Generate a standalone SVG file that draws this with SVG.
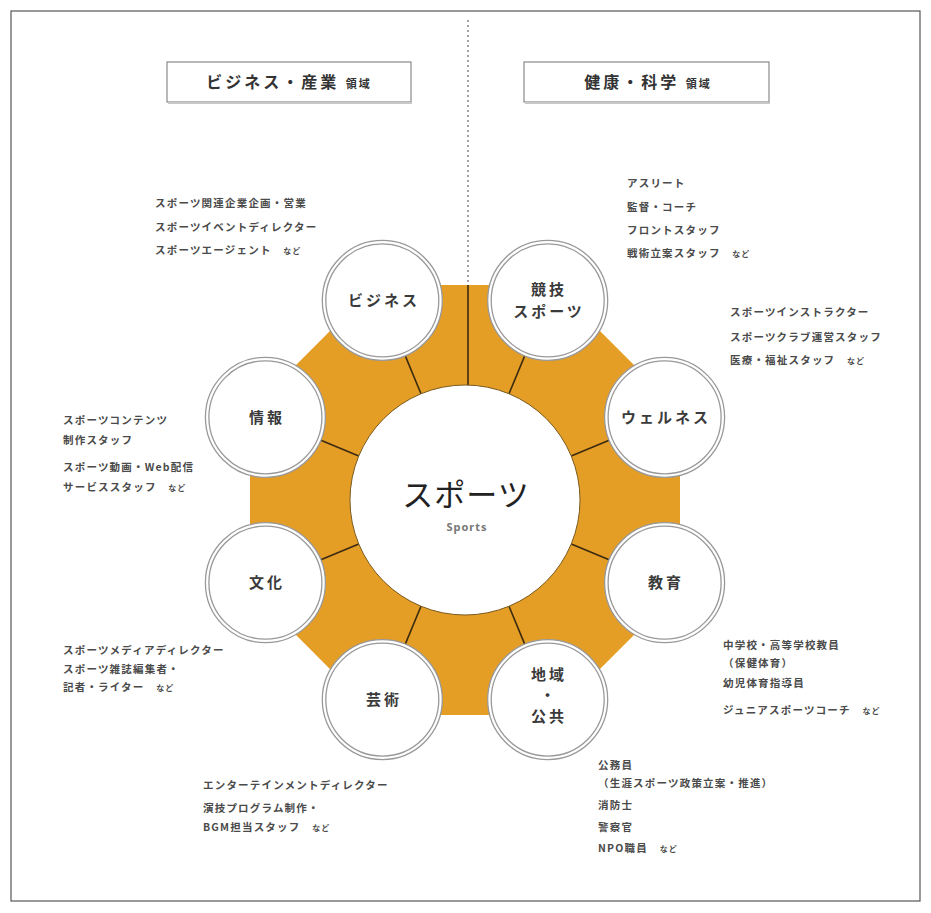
<svg xmlns="http://www.w3.org/2000/svg" width="931" height="913" viewBox="0 0 931 913">
<defs>
<style>
.bg{fill:#ffffff}
.frame{fill:none;stroke:#555;stroke-width:1.2}
.hdr{fill:#fff;stroke:#8a8a8a;stroke-width:1.2}
.hdrs{fill:none;stroke:#c8c8c8;stroke-width:2}
.ht{font-family:"Noto Sans CJK JP","Noto Sans",sans-serif;font-size:16px;font-weight:bold;fill:#333;letter-spacing:3px}
.hs{font-size:11px;letter-spacing:2px}
.div{stroke:#666;stroke-width:1.2;stroke-dasharray:2 3}
.oct{fill:#E49E26}
.spoke{stroke:#3b2a10;stroke-width:1.6}
.ctr{fill:#fff;stroke:#7a5a20;stroke-width:1}
.ring{fill:#fff;stroke:#999;stroke-width:1.3}
.ring2{fill:none;stroke:#999;stroke-width:1.3}
.nl{font-family:"Noto Sans CJK JP","Noto Sans",sans-serif;font-size:15px;font-weight:bold;fill:#3a3a3a;letter-spacing:3px;text-anchor:middle}
.big{font-family:"Noto Sans CJK JP","Noto Sans",sans-serif;font-size:31px;fill:#222;text-anchor:middle;letter-spacing:1px}
.sp{font-family:"Noto Sans","DejaVu Sans",sans-serif;font-size:11px;font-weight:bold;fill:#777;text-anchor:middle;letter-spacing:1px}
.t{font-family:"Noto Sans CJK JP","Noto Sans",sans-serif;font-size:10.5px;font-weight:bold;fill:#4a4a4a;letter-spacing:1.2px}
.etc{font-size:8px;letter-spacing:1px}
</style>
</defs>
<rect class="bg" x="0" y="0" width="931" height="913"/>
<rect class="frame" x="11" y="11" width="909" height="890"/>

<g id="header-left">
<rect class="hdr" x="167" y="62" width="244" height="40"/>
<line class="hdrs" x1="168" y1="103" x2="412" y2="103"/>
<text class="ht" x="289" y="88" text-anchor="middle">ビジネス・産業 <tspan class="hs">領域</tspan></text>
</g>
<g id="header-right">
<rect class="hdr" x="524" y="62" width="245" height="40"/>
<line class="hdrs" x1="525" y1="103" x2="770" y2="103"/>
<text class="ht" x="648" y="88" text-anchor="middle">健康・科学 <tspan class="hs">領域</tspan></text>
</g>

<line id="divider" class="div" x1="468" y1="20" x2="468" y2="285"/>

<g id="ring">
<polygon class="oct" points="680,410.95 680,589.05 554.05,715 375.95,715 250,589.05 250,410.95 375.95,285 554.05,285"/>
</g>

<g id="connectors">
<line class="spoke" x1="468" y1="285" x2="468" y2="386"/>
<line class="spoke" x1="580" y1="500" x2="621" y2="500" transform="rotate(22.5 465 500)"/>
<line class="spoke" x1="580" y1="500" x2="621" y2="500" transform="rotate(67.5 465 500)"/>
<line class="spoke" x1="580" y1="500" x2="621" y2="500" transform="rotate(112.5 465 500)"/>
<line class="spoke" x1="580" y1="500" x2="621" y2="500" transform="rotate(157.5 465 500)"/>
<line class="spoke" x1="580" y1="500" x2="621" y2="500" transform="rotate(202.5 465 500)"/>
<line class="spoke" x1="580" y1="500" x2="621" y2="500" transform="rotate(247.5 465 500)"/>
<line class="spoke" x1="580" y1="500" x2="621" y2="500" transform="rotate(292.5 465 500)"/>
<line class="spoke" x1="580" y1="500" x2="621" y2="500" transform="rotate(337.5 465 500)"/>
</g>

<g id="center">
<circle class="ctr" cx="465" cy="500" r="115"/>
<text class="big" x="466" y="506">スポーツ</text>
<text class="sp" x="467" y="531">Sports</text>
</g>

<g id="node-business">
<circle class="ring" cx="382.3" cy="300.4" r="60"/><circle class="ring2" cx="382.3" cy="300.4" r="56.5"/>
<text class="nl" x="384" y="306">ビジネス</text>
</g>
<g id="node-competition">
<circle class="ring" cx="547.7" cy="300.4" r="60"/><circle class="ring2" cx="547.7" cy="300.4" r="56.5"/>
<text class="nl" x="549" y="295">競技<tspan x="549" dy="22">スポーツ</tspan></text>
</g>
<g id="node-wellness">
<circle class="ring" cx="664.6" cy="417.3" r="60"/><circle class="ring2" cx="664.6" cy="417.3" r="56.5"/>
<text class="nl" x="666" y="423">ウェルネス</text>
</g>
<g id="node-education">
<circle class="ring" cx="664.6" cy="582.7" r="60"/><circle class="ring2" cx="664.6" cy="582.7" r="56.5"/>
<text class="nl" x="666" y="588">教育</text>
</g>
<g id="node-community">
<circle class="ring" cx="547.7" cy="699.6" r="60"/><circle class="ring2" cx="547.7" cy="699.6" r="56.5"/>
<text class="nl" x="549" y="680">地域<tspan x="549" dy="21">・</tspan><tspan x="549" dy="21">公共</tspan></text>
</g>
<g id="node-art">
<circle class="ring" cx="382.3" cy="699.6" r="60"/><circle class="ring2" cx="382.3" cy="699.6" r="56.5"/>
<text class="nl" x="384" y="705">芸術</text>
</g>
<g id="node-culture">
<circle class="ring" cx="265.4" cy="582.7" r="60"/><circle class="ring2" cx="265.4" cy="582.7" r="56.5"/>
<text class="nl" x="267" y="588">文化</text>
</g>
<g id="node-information">
<circle class="ring" cx="265.4" cy="417.3" r="60"/><circle class="ring2" cx="265.4" cy="417.3" r="56.5"/>
<text class="nl" x="267" y="423">情報</text>
</g>

<g id="jobs-business">
<text class="t" x="155" y="207">スポーツ関連企業企画・営業</text>
<text class="t" x="155" y="231">スポーツイベントディレクター</text>
<text class="t" x="155" y="254">スポーツエージェント　<tspan class="etc">など</tspan></text>
</g>
<g id="jobs-competition">
<text class="t" x="627" y="187">アスリート</text>
<text class="t" x="627" y="211">監督・コーチ</text>
<text class="t" x="627" y="234">フロントスタッフ</text>
<text class="t" x="627" y="257">戦術立案スタッフ　<tspan class="etc">など</tspan></text>
</g>
<g id="jobs-wellness">
<text class="t" x="730" y="316">スポーツインストラクター</text>
<text class="t" x="730" y="341">スポーツクラブ運営スタッフ</text>
<text class="t" x="730" y="364">医療・福祉スタッフ　<tspan class="etc">など</tspan></text>
</g>
<g id="jobs-information">
<text class="t" x="63" y="424">スポーツコンテンツ</text>
<text class="t" x="63" y="444">制作スタッフ</text>
<text class="t" x="63" y="471">スポーツ動画・Web配信</text>
<text class="t" x="63" y="491">サービススタッフ　<tspan class="etc">など</tspan></text>
</g>
<g id="jobs-culture">
<text class="t" x="63" y="654">スポーツメディアディレクター</text>
<text class="t" x="63" y="673">スポーツ雑誌編集者・</text>
<text class="t" x="63" y="691">記者・ライター　<tspan class="etc">など</tspan></text>
</g>
<g id="jobs-art">
<text class="t" x="203" y="789">エンターテインメントディレクター</text>
<text class="t" x="203" y="812">演技プログラム制作・</text>
<text class="t" x="203" y="831">BGM担当スタッフ　<tspan class="etc">など</tspan></text>
</g>
<g id="jobs-education">
<text class="t" x="723" y="649">中学校・高等学校教員</text>
<text class="t" x="723" y="667">（保健体育）</text>
<text class="t" x="723" y="687">幼児体育指導員</text>
<text class="t" x="723" y="714">ジュニアスポーツコーチ　<tspan class="etc">など</tspan></text>
</g>
<g id="jobs-community">
<text class="t" x="598" y="769">公務員</text>
<text class="t" x="598" y="787">（生涯スポーツ政策立案・推進）</text>
<text class="t" x="598" y="809">消防士</text>
<text class="t" x="598" y="831">警察官</text>
<text class="t" x="598" y="852">NPO職員　<tspan class="etc">など</tspan></text>
</g>
</svg>
